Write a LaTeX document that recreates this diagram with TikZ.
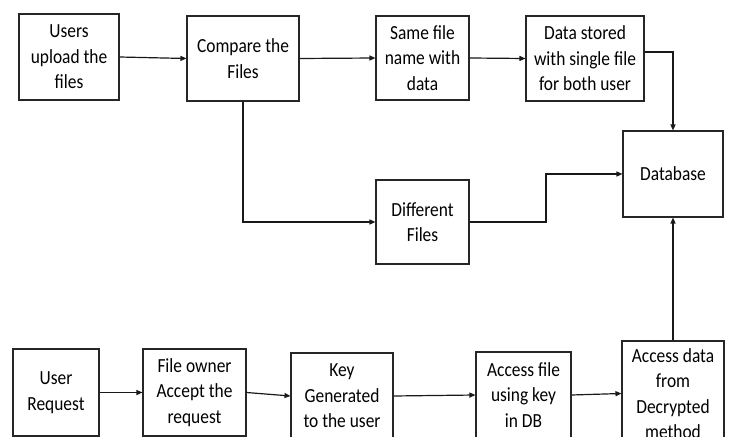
\documentclass[tikz,border=0pt]{standalone}
\usepackage{fontspec}
\setmainfont{Carlito}[FakeStretch=0.87]
\usetikzlibrary{arrows.meta,calc}

\begin{document}
\begin{tikzpicture}[x=1bp,y=-1bp,
  box/.style={draw=black!85,line width=1.1bp,rectangle,inner sep=0pt,
    align=center,font=\fontsize{20bp}{25.5bp}\selectfont},
  arr/.style={line width=1.2bp,draw=black!90,-{Triangle[length=6bp,width=5bp]}}]
  % canvas
  \fill[white] (0,0) rectangle (729,437);
  \useasboundingbox (0,0) rectangle (729,437);
  \clip (0,0) rectangle (729,437);

  % upper flow
  \node[box,minimum width=100bp,minimum height=86bp] (up) at (69,57) {Users\\upload the\\files};
  \node[box,minimum width=112bp,minimum height=85bp] (cmp) at (243,58.5) {Compare the\\Files};
  \node[box,minimum width=93bp,minimum height=84bp] (same) at (422.5,58) {Same file\\name with\\data};
  \node[box,minimum width=118bp,minimum height=85bp] (stored) at (585,58.5) {Data stored\\with single file\\for both user};
  \node[box,minimum width=100bp,minimum height=86bp] (db) at (673,174) {Database};
  \node[box,minimum width=93bp,minimum height=84bp] (diff) at (422.5,222) {Different\\Files};

  % lower flow
  \node[box,minimum width=86bp,minimum height=87bp] (ur) at (56,392.5) {User\\Request};
  \node[box,minimum width=103bp,minimum height=87bp] (fo) at (194.5,392.5) {File owner\\Accept the\\request};
  \node[box,minimum width=102bp,minimum height=86bp] (key) at (342,396) {Key\\Generated\\to the user};
  \node[box,minimum width=95bp,minimum height=86bp] (af) at (523.5,395) {Access file\\using key\\in DB};
  \node[box,minimum width=102bp,minimum height=105bp] (ad) at (673,393.5) {Access data\\from\\Decrypted\\method};

  % connectors
  \draw[arr] (up.east) -- (cmp.west);
  \draw[arr] (cmp.east) -- (same.west);
  \draw[arr] (same.east) -- (stored.west);
  \draw[arr] ($(stored.east)+(0,-6.5)$) -| (db.north);
  \draw[arr] (cmp.south) |- (diff.west);
  \coordinate (mid) at ($(diff.east)!.5!(db.west)$);
  \draw[arr] (diff.east) -- (mid |- diff.east) -- (mid |- db.west) -- (db.west);
  \draw[arr] (ad.north) -- (db.south);

  \draw[arr] (ur.east) -- (fo.west);
  \draw[arr] (fo.east) -- (key.west);
  \draw[arr] (key.east) -- (af.west);
  \draw[arr] (af.east) -- (ad.west);
\end{tikzpicture}
\end{document}
